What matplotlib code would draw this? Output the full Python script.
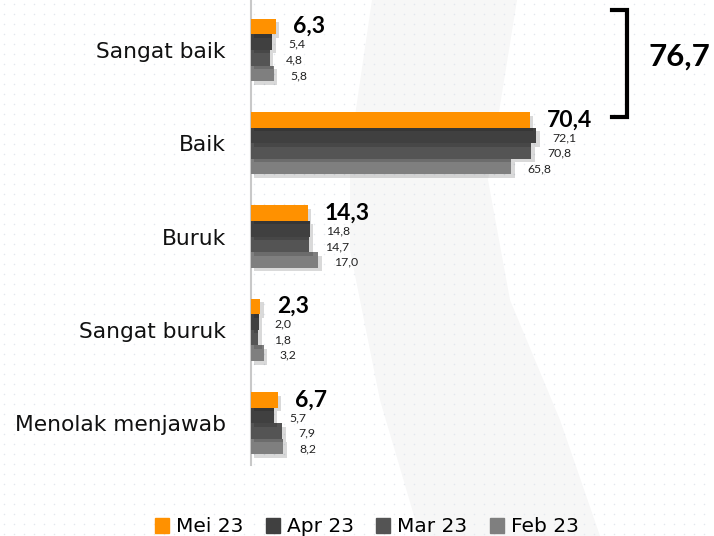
import numpy as np
import matplotlib.pyplot as plt
import matplotlib.patheffects as pe
from matplotlib.patches import Polygon
from matplotlib.lines import Line2D

# data
kategori = ["Sangat baik", "Baik", "Buruk", "Sangat buruk", "Menolak menjawab"]
periode = ["Mei 23", "Apr 23", "Mar 23", "Feb 23"]
mei23 = [6.3, 70.4, 14.3, 2.3, 6.7]
apr23 = [5.4, 72.1, 14.8, 2.0, 5.7]
mar23 = [4.8, 70.8, 14.7, 1.8, 7.9]
feb23 = [5.8, 65.8, 17.0, 3.2, 8.2]
total_baik = "76,7"

seri = [mei23, apr23, mar23, feb23]
warna = ["#FF9100", "#404040", "#545454", "#7F7F7F"]

plt.rcParams['font.family'] = ['Lato', 'DejaVu Sans']

W, H = 714, 536
fig = plt.figure(figsize=(W / 100, H / 100), dpi=100)

# background: faint dots + light band
bg = fig.add_axes([0, 0, 1, 1], zorder=-10)
bg.set_xlim(0, W)
bg.set_ylim(H, 0)
bg.axis("off")
band = Polygon([(372, 0), (350, 150), (350, 250), (380, 400), (420, 536),
                (600, 536), (560, 420), (510, 300), (488, 180), (517, 0)],
               closed=True, color="#F7F7F7", lw=0)
bg.add_patch(band)
gx, gy = np.meshgrid(np.arange(4, W, 10), np.arange(4, H, 10))
bg.scatter(gx.ravel(), gy.ravel(), s=1.2, color="#E2E7EF", lw=0)

ax = fig.add_axes([251 / W, 1 - 465 / H, 1 - 251 / W, 465 / H])
ax.patch.set_alpha(0)

y = np.arange(len(kategori))
h = 0.167
shadow = [pe.SimplePatchShadow(offset=(2.5, -2.5), shadow_rgbFace="#000000", alpha=0.15), pe.Normal()]

for i, (vals, c) in enumerate(zip(seri, warna)):
    pos = y + (i - 1.5) * h
    bars = ax.barh(pos, vals, height=h, color=c, lw=0, zorder=3 - i * 0.1)
    for b in bars:
        b.set_path_effects(shadow)
    for p, v in zip(pos, vals):
        txt = f"{v:.1f}".replace(".", ",")
        if i == 0:
            ax.annotate(txt, (v, p), xytext=(12.5, 0), textcoords="offset points",
                        ha="left", va="center", fontsize=16.5, fontweight="bold",
                        color="black", zorder=6)
        else:
            ax.annotate(txt, (v, p), xytext=(11.5, -1.5), textcoords="offset points",
                        ha="left", va="center", fontsize=8.8, color="#222222", zorder=6)

ax.set_xlim(0, 117)
ax.set_ylim(4.448, -0.536)
ax.set_yticks(y)
ax.set_yticklabels(kategori, fontsize=15.7, color="#111111", family="DejaVu Sans")
ax.tick_params(axis="y", length=0, pad=18)
ax.set_xticks([])
for s in ["top", "right", "bottom"]:
    ax.spines[s].set_visible(False)
ax.spines["left"].set_color("#C8C8C8")
ax.spines["left"].set_linewidth(1.5)

# bracket for Sangat baik + Baik
fig.add_artist(Line2D([612 / W, 627 / W, 627 / W, 612 / W],
                      [1 - 10 / H, 1 - 10 / H, 1 - 117 / H, 1 - 117 / H],
                      color="black", lw=3, solid_joinstyle="miter"))
fig.text(648 / W, 1 - 57 / H, total_baik, fontsize=22.5, fontweight="bold",
         ha="left", va="center")

handles = [plt.Rectangle((0, 0), 1, 1, color=c) for c in warna]
fig.legend(handles, periode, loc="center", bbox_to_anchor=(367 / W, 1 - 527 / H),
           ncol=4, frameon=False, prop={"family": "DejaVu Sans", "size": 14.5},
           handlelength=0.7, handleheight=0.7, handletextpad=0.35, columnspacing=1.1)

fig.savefig("out.png", dpi=100)
